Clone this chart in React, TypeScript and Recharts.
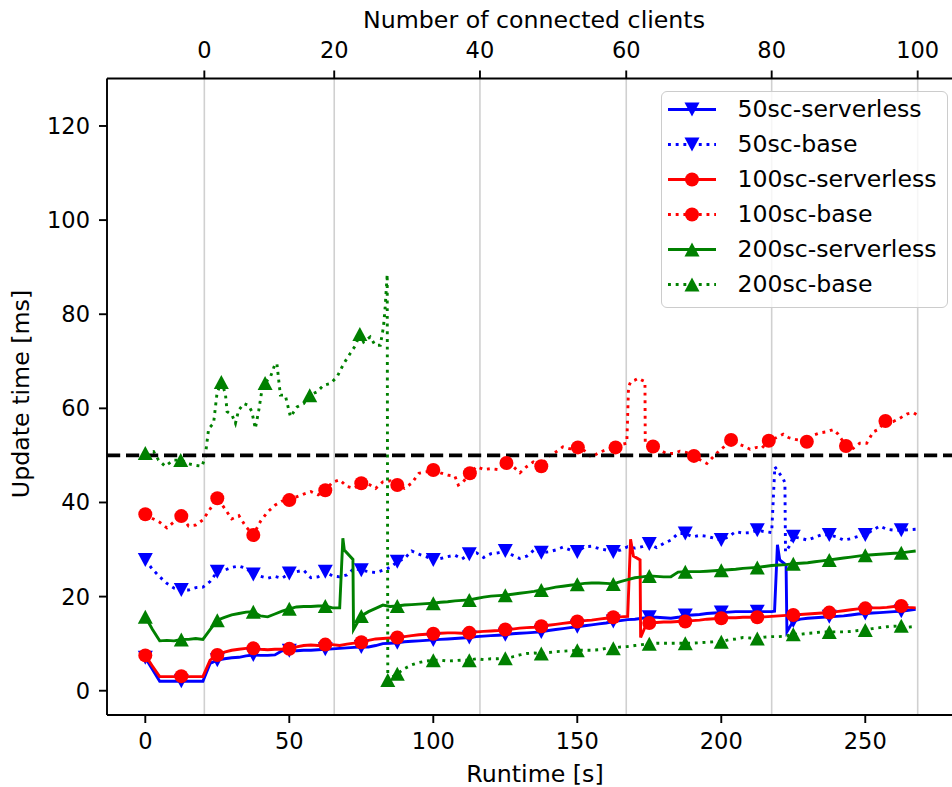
import { LineChart, Line, XAxis, YAxis, CartesianGrid, ReferenceLine } from 'recharts'

type Pt = [number, number]
type Shape = 'down' | 'up' | 'circle'

const FONT = '"DejaVu Sans", sans-serif'

// runtime [s] -> update time [ms]
const serverless50: Pt[] = [
  [0, 7.0], [2.5, 4.5], [5, 2.0], [7.5, 2.0], [10, 2.0], [12.5, 2.0], [15, 2.0], [17.5, 2.0], [20, 2.0],
  [22.5, 5.8], [25, 6.5], [27.5, 6.8], [30, 7.0], [32.5, 7.1], [35, 7.4], [37.5, 7.6], [40, 7.5], [42.5, 7.5],
  [45, 7.6], [47.5, 8.5], [50, 8.5], [52.5, 8.5], [55, 8.6], [57.5, 8.6], [60, 8.7], [62.5, 8.8], [65, 8.9],
  [67.5, 9.0], [70, 9.1], [72.5, 9.2], [75, 9.3], [77.5, 9.3], [80, 9.6], [82.5, 10.0], [85, 10.1], [87.5, 10.2],
  [90, 10.4], [92.5, 10.5], [95, 10.6], [97.5, 10.7], [100, 10.8], [102.5, 10.9], [105, 11.0], [107.5, 11.1],
  [110, 11.2], [112.5, 11.3], [115, 11.5], [117.5, 11.6], [120, 11.7], [122.5, 11.8], [125, 11.9], [127.5, 12.1],
  [130, 12.2], [132.5, 12.3], [135, 12.4], [137.5, 12.5], [140, 12.8], [142.5, 13.0], [145, 13.2], [147.5, 13.4],
  [150, 13.6], [152.5, 13.8], [155, 14.0], [157.5, 14.2], [160, 14.4], [162.5, 14.7], [165, 14.9], [167.5, 15.1],
  [170, 15.2], [172.5, 15.4], [175, 15.6], [177.5, 15.6], [180, 15.5], [182.5, 15.4], [185, 15.6], [187.5, 16.0],
  [190, 16.1], [192.5, 16.2], [195, 16.4], [197.5, 16.5], [200, 16.6], [202.5, 16.7], [205, 16.8], [207.5, 16.8],
  [210, 16.8], [212.5, 16.8], [215, 16.8], [217.5, 16.8], [218.5, 16.9], [219.5, 31.0], [220.3, 27.8], [222.5, 26.7],
  [222.8, 12.5], [225, 14.8], [227.5, 15.2], [230, 15.4], [232.5, 15.5], [235, 15.6], [237.5, 15.7], [240, 15.8],
  [242.5, 15.9], [245, 16.1], [247.5, 16.3], [250, 16.4], [252.5, 16.5], [255, 16.6], [257.5, 16.7], [260, 16.8],
  [262.5, 16.9], [265, 17.1], [267.5, 17.3],
]

const base50: Pt[] = [
  [0, 27.8], [2.5, 25.8], [5, 24.2], [7.5, 22.8], [10, 21.8], [12.5, 21.4], [15, 21.4], [17.5, 21.9], [20, 22.0],
  [22.5, 23.2], [25, 25.3], [27.5, 25.6], [30, 26.2], [32.5, 26.5], [35, 26.0], [37.5, 24.7], [40, 24.3], [42.5, 23.9],
  [45, 24.3], [47.5, 23.9], [50, 24.9], [52.5, 25.3], [55, 25.6], [57.5, 24.0], [60, 24.2], [62.5, 25.3], [65, 24.4],
  [67.5, 24.2], [70, 24.6], [72.5, 26.0], [75, 25.6], [77.5, 25.3], [80, 25.1], [82.5, 25.6], [85, 26.2], [87.5, 27.4],
  [90, 28.1], [92.5, 29.7], [95, 29.0], [97.5, 28.5], [100, 27.8], [102.5, 28.1], [105, 28.5], [107.5, 28.8],
  [110, 28.0], [112.5, 29.0], [115, 29.3], [117.5, 28.3], [120, 29.1], [122.5, 29.3], [125, 29.7], [127.5, 28.8],
  [130, 28.1], [132.5, 28.6], [135, 29.9], [137.5, 29.3], [140, 29.5], [142.5, 29.9], [145, 30.5], [147.5, 29.9],
  [150, 29.5], [152.5, 30.6], [155, 30.7], [157.5, 30.2], [160, 29.9], [162.5, 29.5], [165, 29.9], [167.5, 30.6],
  [170, 30.3], [172.5, 30.6], [175, 31.2], [177.5, 30.4], [180, 31.3], [182.5, 32.0], [185, 33.4], [187.5, 33.4],
  [190, 32.7], [192.5, 33.0], [195, 32.8], [197.5, 32.4], [200, 32.0], [202.5, 32.7], [205, 33.8], [207.5, 33.5],
  [210, 33.6], [212.5, 34.1], [215, 33.8], [217.5, 33.6], [218.6, 47.6], [219.8, 46.5], [221.5, 45.1], [222.1, 44.1],
  [222.3, 29.5], [223.5, 30.6], [225, 32.7], [227.5, 32.4], [230, 32.0], [232.5, 32.6], [235, 33.2], [237.5, 33.1],
  [240, 32.7], [242.5, 32.0], [245, 32.3], [247.5, 32.8], [250, 33.1], [252.5, 34.1], [255, 35.0], [257.5, 34.3],
  [260, 34.1], [262.5, 34.1], [265, 34.2], [267.5, 34.3],
]

const serverless100: Pt[] = [
  [0, 7.5], [2.5, 5.2], [5, 3.0], [7.5, 3.0], [10, 3.0], [12.5, 3.1], [15, 3.0], [17.5, 3.0], [20, 3.0],
  [22.5, 6.5], [25, 7.6], [27.5, 8.2], [30, 8.6], [32.5, 8.8], [35, 9.0], [37.5, 9.0], [40, 8.8], [42.5, 8.7],
  [45, 8.8], [47.5, 8.8], [50, 8.9], [52.5, 9.3], [55, 9.6], [57.5, 9.7], [60, 9.6], [62.5, 9.8], [65, 9.8],
  [67.5, 9.6], [70, 9.9], [72.5, 10.1], [75, 10.3], [77.5, 10.7], [80, 11.0], [82.5, 11.1], [85, 11.2], [87.5, 11.3],
  [90, 11.5], [92.5, 11.7], [95, 11.9], [97.5, 12.0], [100, 12.1], [102.5, 12.2], [105, 12.3], [107.5, 12.3],
  [110, 12.2], [112.5, 12.3], [115, 12.5], [117.5, 12.6], [120, 12.7], [122.5, 12.8], [125, 13.0], [127.5, 13.1],
  [130, 13.3], [132.5, 13.4], [135, 13.5], [137.5, 13.7], [140, 13.9], [142.5, 14.1], [145, 14.3], [147.5, 14.5],
  [150, 14.7], [152.5, 14.9], [155, 15.0], [157.5, 15.2], [160, 15.4], [162.5, 15.6], [165, 15.7], [167.5, 15.8],
  [168.5, 32.2], [169.5, 28.6], [171.8, 27.8], [172, 11.3], [174, 14.2], [175, 14.4], [177.5, 14.5], [180, 14.6],
  [182.5, 14.6], [185, 14.7], [187.5, 14.7], [190, 14.9], [192.5, 15.0], [195, 15.2], [197.5, 15.3], [200, 15.4],
  [202.5, 15.5], [205, 15.5], [207.5, 15.6], [210, 15.6], [212.5, 15.6], [215, 15.7], [217.5, 15.8], [220, 15.9],
  [222.5, 16.0], [225, 16.1], [227.5, 16.2], [230, 16.3], [232.5, 16.4], [235, 16.5], [237.5, 16.6], [240, 16.8],
  [242.5, 17.0], [245, 17.2], [247.5, 17.4], [250, 17.5], [252.5, 17.6], [255, 17.6], [257.5, 17.7], [260, 17.9],
  [262.5, 18.0], [265, 17.7], [267.5, 17.6],
]

const base100: Pt[] = [
  [0, 37.5], [2.5, 36.6], [5, 35.8], [7.5, 34.6], [10, 35.9], [12.5, 37.1], [15, 35.0], [17.5, 35.2], [20, 36.3],
  [22.5, 38.6], [25, 40.9], [27.5, 38.8], [30, 36.5], [32.5, 37.2], [35, 34.8], [37.5, 33.1], [40, 36.0], [42.5, 38.0],
  [45, 39.4], [47.5, 40.3], [50, 40.5], [52.5, 41.2], [55, 41.8], [57.5, 42.3], [60, 41.6], [62.5, 42.6], [65, 44.3],
  [67.5, 44.8], [70, 43.4], [72.5, 43.0], [75, 44.1], [77.5, 43.9], [80, 43.0], [82.5, 44.4], [85, 44.6], [87.5, 43.7],
  [90, 43.0], [92.5, 44.1], [95, 46.2], [97.5, 46.5], [100, 46.9], [102.5, 46.3], [105, 45.8], [107.5, 45.6],
  [108.7, 43.7], [110.4, 44.4], [112.7, 46.2], [115, 47.6], [117.5, 47.0], [120, 47.2], [122.5, 47.0], [125.4, 48.4],
  [127.8, 47.6], [130.1, 46.3], [132.4, 47.6], [134.7, 48.6], [137.5, 47.7], [140, 49.8], [142.5, 50.7], [145, 51.8],
  [147.5, 51.4], [150.2, 51.7], [152.5, 51.0], [155, 49.6], [157.5, 50.6], [160, 51.2], [163.3, 51.7], [165.2, 52.3],
  [167.2, 52.6], [167.8, 64.6], [168.6, 65.7], [170, 66.0], [171.2, 66.4], [172.4, 66.0], [173.5, 65.7], [173.6, 52.9],
  [176.3, 51.9], [178.7, 51.1], [181.0, 50.4], [183.3, 50.4], [185.6, 50.9], [188.0, 50.6], [190.5, 49.9], [192.8, 49.0],
  [195.0, 48.3], [197.2, 49.7], [199.5, 51.1], [201.3, 52.0], [203.4, 53.3], [205.3, 52.6], [207.7, 52.0], [210.0, 51.3],
  [212.3, 51.7], [214.0, 51.5], [216.5, 53.1], [219.2, 53.8], [221.5, 54.5], [223.3, 53.8], [225.6, 53.4], [227.6, 53.2],
  [229.7, 52.9], [232.0, 54.3], [234.3, 54.8], [236.5, 55.0], [238.9, 55.5], [240.6, 54.5], [243.3, 52.0], [245.8, 51.5],
  [248.1, 52.6], [250.5, 52.6], [252.8, 55.0], [254.5, 55.5], [257.0, 57.3], [259.7, 57.2], [262.0, 57.9], [264.4, 58.8],
  [266.7, 59.1], [268.0, 58.6],
]

const serverless200: Pt[] = [
  [0, 15.7], [2.5, 13.0], [5, 10.6], [7.5, 10.7], [10, 10.6], [12.5, 10.9], [15, 10.9], [17.5, 11.1], [20, 10.9],
  [22.5, 13.0], [25, 15.0], [27.5, 15.6], [30, 16.1], [32.5, 16.4], [35, 16.7], [37.5, 16.8], [40, 15.9], [42.5, 15.7],
  [45, 16.3], [47.5, 16.9], [50, 17.4], [52.5, 17.8], [55, 17.9], [57.5, 17.9], [60, 18.0], [62.5, 18.0], [65, 17.6],
  [67.5, 17.6], [68.6, 32.4], [69.1, 29.9], [72.1, 27.9], [72.3, 13.0], [75, 15.9], [77.5, 16.8], [80, 17.5],
  [82.5, 18.2], [85, 17.9], [87.5, 18.0], [90, 18.2], [92.5, 18.3], [95, 18.4], [97.5, 18.5], [100, 18.6], [102.5, 18.8],
  [105, 18.9], [107.5, 19.1], [110, 19.2], [112.5, 19.3], [115, 19.6], [117.5, 19.9], [120, 20.1], [122.5, 20.2],
  [125, 20.3], [127.5, 20.5], [130, 20.7], [132.5, 20.9], [135, 21.1], [137.5, 21.4], [140, 21.7], [142.5, 22.0],
  [145, 22.2], [147.5, 22.4], [150, 22.6], [152.5, 22.8], [155, 22.9], [157.5, 22.9], [160, 22.8], [162.5, 22.7],
  [165, 23.2], [167.5, 23.6], [170, 24.0], [172.5, 24.2], [175, 24.4], [177.5, 24.3], [180, 24.2], [182.5, 24.2],
  [185, 25.2], [187.5, 25.3], [190, 25.3], [192.5, 25.3], [195, 25.4], [197.5, 25.5], [200, 25.6], [202.5, 25.7],
  [205, 25.8], [207.5, 26.0], [210, 26.1], [212.5, 26.2], [215, 26.4], [217.5, 26.6], [220, 26.7], [222.5, 26.8],
  [225, 27.0], [227.5, 27.1], [230, 27.2], [232.5, 27.4], [235, 27.6], [237.5, 27.8], [240, 28.0], [242.5, 28.2],
  [245, 28.4], [247.5, 28.6], [250, 28.8], [252.5, 28.9], [255, 29.0], [257.5, 29.1], [260, 29.2], [262.5, 29.3],
  [265, 29.5], [267.5, 29.7],
]

const base200: Pt[] = [
  [0, 50.5], [2.9, 50.8], [4.6, 49.0], [6.9, 47.7], [9.8, 49.0], [12.3, 49.0], [15.1, 48.2], [17.4, 47.9], [19.7, 47.7],
  [20.8, 49.7], [22.0, 55.7], [23.7, 56.8], [24.9, 63.2], [26.4, 65.6], [27.8, 63.2], [28.4, 59.3], [30.1, 58.6],
  [31.3, 56.8], [32.4, 59.6], [34.2, 61.0], [35.9, 60.6], [37.0, 59.3], [38.2, 55.7], [39.4, 59.6], [40.5, 63.9],
  [41.6, 65.4], [43.4, 66.6], [45.1, 69.5], [45.7, 69.5], [46.9, 62.8], [48.6, 62.8], [50.4, 58.2], [52.7, 60.3],
  [55.0, 61.0], [57.1, 62.8], [59.6, 63.5], [61.9, 64.9], [64.3, 65.3], [66.6, 66.7], [68.9, 69.5], [71.2, 71.7],
  [73.0, 73.4], [74.5, 75.8], [75.8, 74.1], [78.1, 75.2], [79.8, 73.4], [81.6, 73.4], [82.7, 77.3], [83.3, 81.6],
  [84.0, 88.5], [84.2, 2.3], [87.5, 3.6], [90, 4.7], [92.5, 5.5], [95, 6.0], [97.5, 6.3], [100, 6.5], [102.5, 6.5],
  [105, 6.3], [107.5, 6.4], [110, 6.5], [112.5, 6.5], [115, 6.8], [117.5, 6.6], [120, 6.8], [122.5, 6.8], [125, 6.9],
  [127.5, 7.2], [130, 7.6], [132.5, 7.9], [135, 8.0], [137.5, 7.9], [140, 8.1], [142.5, 8.3], [145, 8.4], [147.5, 8.5],
  [150, 8.6], [152.5, 8.6], [155, 8.6], [157.5, 8.7], [160, 9.0], [162.5, 9.0], [165, 9.3], [167.5, 9.4], [170, 9.6],
  [172.5, 9.8], [175, 10.0], [177.5, 10.1], [180, 10.1], [182.5, 10.1], [185, 10.1], [187.5, 10.1], [190, 10.1],
  [192.5, 10.2], [195, 10.3], [197.5, 10.4], [200, 10.4], [202.5, 10.8], [205, 11.0], [207.5, 11.3], [210, 11.2],
  [212.5, 11.1], [215, 11.4], [217.5, 11.5], [220, 11.5], [222.5, 11.6], [225, 12.0], [227.5, 12.0], [230, 12.2],
  [232.5, 12.3], [235, 12.5], [237.5, 12.5], [240, 12.5], [242.5, 12.5], [245, 12.6], [247.5, 12.8], [250, 12.9],
  [252.5, 13.2], [255, 13.4], [257.5, 13.6], [260, 13.7], [262.5, 13.8], [265, 13.5], [267.5, 13.7],
]

// runtimes where a marker is drawn
const gridMarks = [0, 12.5, 25, 37.5, 50, 62.5, 75, 87.5, 100, 112.5, 125, 137.5, 150, 162.5, 175, 187.5, 200, 212.5, 225, 237.5, 250, 262.5]
const base100Marks = [0, 12.5, 25, 37.5, 50, 62.5, 75, 87.5, 100, 112.7, 125.4, 137.5, 150.2, 163.3, 176.3, 190.5, 203.4, 216.5, 229.7, 243.3, 257.0]
const base200Marks = [0, 12.3, 26.4, 41.6, 57.1, 74.5, 84.2, 87.5, 100, 112.5, 125, 137.5, 150, 162.5, 175, 187.5, 200, 212.5, 225, 237.5, 250, 262.5]

const runtimeTicks = [0, 50, 100, 150, 200, 250]
const updateTicks = [0, 20, 40, 60, 80, 100, 120]
// top axis: client counts and the runtime [s] at which each was reached
const clientTicks = [0, 20, 40, 60, 80, 100]
const clientRuntimes = [20.5, 65.6, 116.2, 167.0, 217.5, 268.2]
const threshold = 50

const SERIES: { name: string; pts: Pt[]; marks: number[]; color: string; shape: Shape; dotted: boolean }[] = [
  { name: '50sc-serverless', pts: serverless50, marks: gridMarks, color: '#0000ff', shape: 'down', dotted: false },
  { name: '50sc-base', pts: base50, marks: gridMarks, color: '#0000ff', shape: 'down', dotted: true },
  { name: '100sc-serverless', pts: serverless100, marks: gridMarks, color: '#ff0000', shape: 'circle', dotted: false },
  { name: '100sc-base', pts: base100, marks: base100Marks, color: '#ff0000', shape: 'circle', dotted: true },
  { name: '200sc-serverless', pts: serverless200, marks: gridMarks, color: '#008000', shape: 'up', dotted: false },
  { name: '200sc-base', pts: base200, marks: base200Marks, color: '#008000', shape: 'up', dotted: true },
]

const LW = 2.9
const DOTTED = '2.9 4.8'
const RUNTIME_DOMAIN: [number, number] = [-13.3, 281.4]

const rows = (pts: Pt[]) => pts.map(([t, v]) => ({ t, v }))
// empty series that only ties the top axis to the chart
const clientRows = clientRuntimes.map((t) => ({ t }))

function Marker({ shape, color, x, y }: { shape: Shape; color: string; x: number; y: number }) {
  if (shape === 'circle') return <circle cx={x} cy={y} r={7} fill={color} />
  const h = 7
  const w = 7.5
  const pts =
    shape === 'up'
      ? `${x},${y - h} ${x - w},${y + h} ${x + w},${y + h}`
      : `${x},${y + h} ${x - w},${y - h} ${x + w},${y - h}`
  return <polygon points={pts} fill={color} />
}

function dotsAt(shape: Shape, color: string, times: number[]) {
  const keep = new Set(times)
  return (p: any) => {
    const key = `m${p.index}`
    if (!keep.has(p.payload?.t) || p.cx == null || p.cy == null) return <g key={key} />
    return (
      <g key={key}>
        <Marker shape={shape} color={color} x={p.cx} y={p.cy} />
      </g>
    )
  }
}

const tickStyle = { fill: '#000', fontSize: 22.5, fontFamily: FONT }
const axisStroke = { stroke: '#000', strokeWidth: 1.9 }

function LegendBox() {
  return (
    <div
      style={{
        position: 'absolute',
        left: 660.7,
        top: 91,
        width: 287.6,
        height: 217.3,
        boxSizing: 'border-box',
        border: '1.9px solid #cccccc',
        borderRadius: 6,
        background: 'rgba(255,255,255,0.8)',
      }}
    >
      {SERIES.map((s, i) => (
        <div key={s.name} style={{ position: 'absolute', left: 0, top: 110 + 35 * i - 92.9 - 17.5, width: '100%', height: 35 }}>
          <svg width={50} height={35} style={{ position: 'absolute', left: 6.7, top: 0 }}>
            <line
              x1={0}
              x2={48}
              y1={17.5}
              y2={17.5}
              stroke={s.color}
              strokeWidth={LW}
              strokeDasharray={s.dotted ? DOTTED : undefined}
            />
            <Marker shape={s.shape} color={s.color} x={24} y={17.5} />
          </svg>
          <span
            style={{
              position: 'absolute',
              left: 75.7,
              top: 0,
              lineHeight: '35px',
              fontSize: 23.6,
              fontFamily: FONT,
              color: '#000',
              whiteSpace: 'nowrap',
            }}
          >
            {s.name}
          </span>
        </div>
      ))}
    </div>
  )
}

const labelStyle = {
  position: 'absolute' as const,
  fontSize: 23.7,
  fontFamily: FONT,
  color: '#000',
  lineHeight: 1,
  whiteSpace: 'nowrap' as const,
}

export default function App() {
  return (
    <div
      style={{
        position: 'absolute',
        left: 0,
        top: 0,
        width: 952,
        height: 787,
        overflow: 'hidden',
        background: '#fff',
      }}
    >
      <LineChart width={960} height={787} margin={{ top: 0, right: 4.3, bottom: 0, left: 0 }}>
        <XAxis
          xAxisId="top"
          orientation="top"
          dataKey="t"
          type="number"
          domain={RUNTIME_DOMAIN}
          allowDataOverflow
          ticks={clientRuntimes}
          tickFormatter={(_v: number, i: number) => String(clientTicks[i])}
          height={78.5}
          tickSize={8}
          tickMargin={13}
          tick={tickStyle}
          tickLine={axisStroke}
          axisLine={axisStroke}
        />
        <XAxis
          xAxisId="bottom"
          dataKey="t"
          type="number"
          domain={RUNTIME_DOMAIN}
          allowDataOverflow
          ticks={runtimeTicks}
          height={72}
          tickSize={8}
          tickMargin={10}
          tick={tickStyle}
          tickLine={axisStroke}
          axisLine={axisStroke}
        />
        <YAxis
          yAxisId="left"
          type="number"
          domain={[-5.16, 130.09]}
          allowDataOverflow
          ticks={updateTicks}
          width={107}
          tickSize={8}
          tickMargin={9}
          tick={tickStyle}
          tickLine={axisStroke}
          axisLine={axisStroke}
        />
        <CartesianGrid xAxisId="top" yAxisId="left" horizontal={false} stroke="#d0d0d0" strokeWidth={1.6} />
        <Line
          xAxisId="top"
          yAxisId="left"
          data={clientRows}
          dataKey="v"
          stroke="none"
          dot={false}
          activeDot={false}
          legendType="none"
          isAnimationActive={false}
        />
        {SERIES.map((s) => (
          <Line
            key={s.name}
            xAxisId="bottom"
            yAxisId="left"
            data={rows(s.pts)}
            dataKey="v"
            type="linear"
            stroke={s.color}
            strokeWidth={LW}
            strokeDasharray={s.dotted ? DOTTED : undefined}
            dot={dotsAt(s.shape, s.color, s.marks)}
            activeDot={false}
            isAnimationActive={false}
          />
        ))}
        <ReferenceLine
          xAxisId="bottom"
          yAxisId="left"
          y={threshold}
          stroke="#000"
          strokeWidth={3.6}
          strokeDasharray="13.2 5.8"
        />
      </LineChart>
      <div style={{ ...labelStyle, left: 534, top: 21, transform: 'translate(-50%, -50%)' }}>
        Number of connected clients
      </div>
      <div style={{ ...labelStyle, left: 535, top: 774.5, transform: 'translate(-50%, -50%)' }}>Runtime [s]</div>
      <div style={{ ...labelStyle, left: 21.5, top: 394, transform: 'translate(-50%, -50%) rotate(-90deg)' }}>
        Update time [ms]
      </div>
      <LegendBox />
    </div>
  )
}
